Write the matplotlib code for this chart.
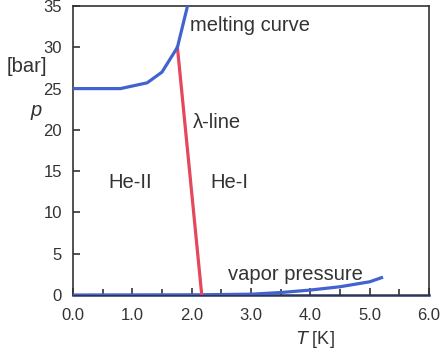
import numpy as np
import matplotlib.pyplot as plt

plt.rcParams['font.family'] = ['Liberation Sans', 'DejaVu Sans']

# melting curve (clipped at the top of the axes)
melt_T = [0.0, 0.8, 1.25, 1.5, 1.76, 1.93, 2.0]
melt_p = [25.0, 25.0, 25.7, 27.0, 30.0, 35.0, 37.0]

# lambda line
lam_T = [1.76, 2.17]
lam_p = [30.0, 0.0]

# vapor pressure curve
vap_T = [0.0, 2.17, 3.0, 3.5, 4.0, 4.5, 5.0, 5.2]
vap_p = [0.0, 0.03, 0.1, 0.3, 0.6, 1.0, 1.6, 2.1]

xticks = [0, 1, 2, 3, 4, 5, 6]
yticks = [0, 5, 10, 15, 20, 25, 30, 35]

blue = '#4263cf'
red = '#e5475d'
ink = '#333333'

fig = plt.figure(figsize=(4.41, 3.55), dpi=100)
ax = fig.add_axes([0.1655, 0.169, 0.8073, 0.814])

ax.plot(vap_T, vap_p, color=blue, lw=2.3, zorder=3)
ax.plot(lam_T, lam_p, color=red, lw=2.3, zorder=3)
ax.plot(melt_T, melt_p, color=blue, lw=2.3, zorder=3)

ax.set_xlim(0, 6)
ax.set_ylim(0, 35)
ax.set_xticks(xticks)
ax.set_xticklabels([f'{t:.1f}' for t in xticks])
ax.set_xticks(np.arange(0.5, 6, 1.0), minor=True)
ax.set_yticks(yticks)
ax.tick_params(direction='in', length=5, width=1.2, labelsize=12, colors=ink)
ax.tick_params(axis='x', pad=9)
ax.tick_params(axis='y', pad=8)
ax.tick_params(axis='x', which='minor', direction='in', length=4, width=1.2, colors=ink)
for s in ax.spines.values():
    s.set_color(ink)
    s.set_linewidth(1.2)
ax.spines['bottom'].set_color('#2b3656')
ax.spines['bottom'].set_linewidth(1.8)

fs = 14.5
ax.text(1.97, 32.7, 'melting curve', fontsize=fs, color=ink, va='center')
ax.text(2.02, 20.9, '\u03bb-line', fontsize=fs, color=ink, va='center')
ax.text(0.59, 13.6, 'He-II', fontsize=fs, color=ink, va='center')
ax.text(2.31, 13.6, 'He-I', fontsize=fs, color=ink, va='center')
ax.text(2.61, 2.5, 'vapor pressure', fontsize=fs, color=ink, va='center')

fig.text(0.061, 0.813, '[bar]', fontsize=fs, color=ink, ha='center', va='center')
fig.text(0.082, 0.69, 'p', fontsize=fs, style='italic', color=ink, ha='center', va='center')
fig.text(0.716, 0.045, r'$\mathit{T}$ [K]', fontsize=13, color=ink, ha='center', va='center')

plt.savefig('out.png', dpi=100)
